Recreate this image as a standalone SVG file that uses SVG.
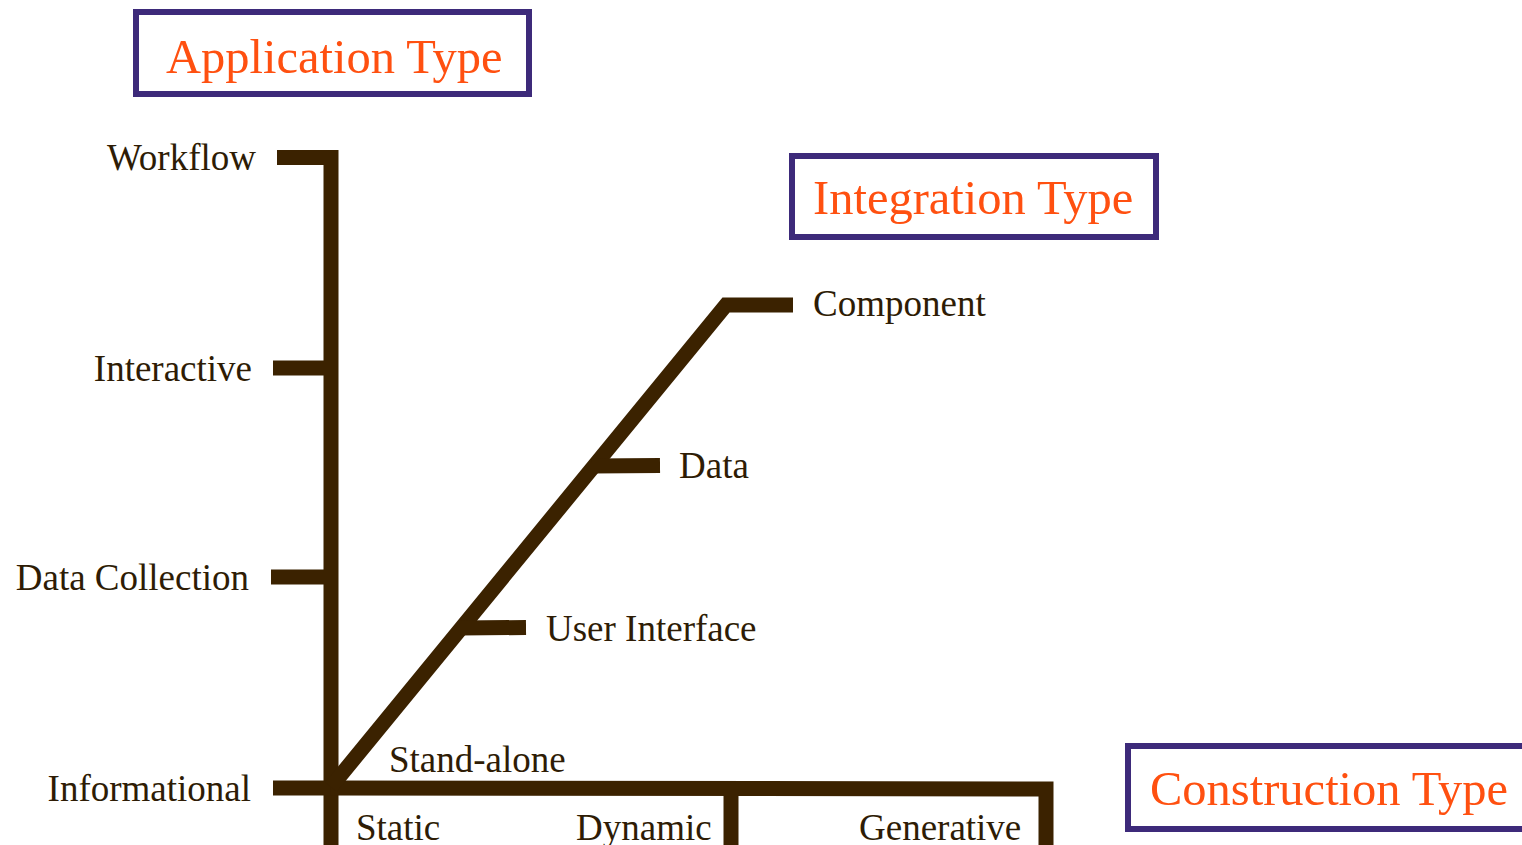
<svg xmlns="http://www.w3.org/2000/svg" width="1522" height="845" viewBox="0 0 1522 845">
<style>
.ax{stroke:#3b2200;stroke-width:15;fill:none;stroke-linejoin:miter;stroke-linecap:butt}
.lbl{font-family:"Liberation Serif","Times New Roman",serif;font-size:37px;fill:#2e1c05}
.box{fill:#ffffff;stroke:#3d2a7a;stroke-width:6}
.ttl{font-family:"Liberation Serif","Times New Roman",serif;font-size:48.5px;fill:#ff5010}
</style>
<rect width="1522" height="845" fill="#ffffff"/>
<g id="connectors">
<path class="ax" d="M277 157.5 H331 V845"/>
<path class="ax" d="M273 368 H331"/>
<path class="ax" d="M271 577 H331"/>
<path class="ax" d="M273 788 H331"/>
<path class="ax" d="M331 788 L1046 789 V845"/>
<path class="ax" d="M731 789 V845"/>
<path class="ax" d="M331 787 L726 305 H793"/>
<path class="ax" d="M592 466 L660 465.5"/>
<path class="ax" d="M460 628 L526 627.5"/>
</g>
<g id="application-type">
<rect class="box" x="136" y="12" width="393" height="82"/>
<text class="ttl" x="166" y="73">Application Type</text>
</g>
<g id="integration-type">
<rect class="box" x="792" y="156" width="364" height="81"/>
<text class="ttl" x="813" y="214">Integration Type</text>
</g>
<g id="construction-type">
<rect class="box" x="1128" y="746" width="404" height="83"/>
<text class="ttl" x="1150" y="805">Construction Type</text>
</g>
<g id="workflow"><text class="lbl" x="256" y="170" text-anchor="end">Workflow</text></g>
<g id="interactive"><text class="lbl" x="252" y="381" text-anchor="end">Interactive</text></g>
<g id="data-collection"><text class="lbl" x="249" y="590" text-anchor="end">Data Collection</text></g>
<g id="informational"><text class="lbl" x="251" y="801" text-anchor="end">Informational</text></g>
<g id="component"><text class="lbl" x="813" y="316">Component</text></g>
<g id="data"><text class="lbl" x="679" y="478">Data</text></g>
<g id="user-interface"><text class="lbl" x="546" y="641">User Interface</text></g>
<g id="stand-alone"><text class="lbl" x="389" y="772">Stand-alone</text></g>
<g id="static"><text class="lbl" x="356" y="840">Static</text></g>
<g id="dynamic"><text class="lbl" x="576" y="840">Dynamic</text></g>
<g id="generative"><text class="lbl" x="859" y="840">Generative</text></g>
</svg>
